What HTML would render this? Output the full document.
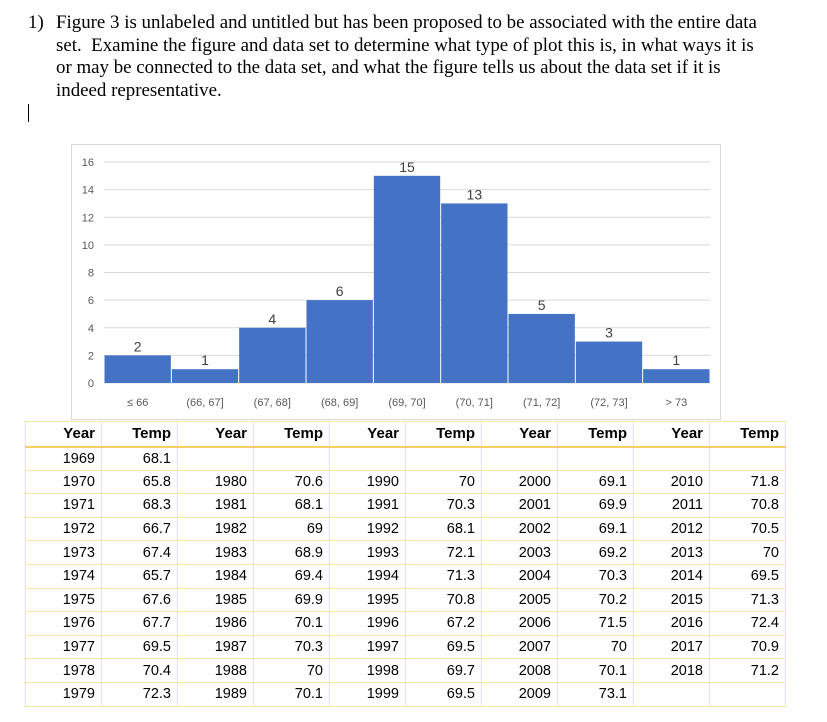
<!DOCTYPE html>
<html><head><meta charset="utf-8"><style>
body{margin:0;width:827px;height:722px;background:#fff;position:relative;overflow:hidden;font-family:"Liberation Serif",serif}
#q{position:absolute;left:28px;top:12px;font-size:18.9px;line-height:22.7px;color:#000}
#q .n{position:absolute;left:0;top:0}
#q .t{position:absolute;left:28px;top:0;white-space:nowrap}
#cursor{position:absolute;left:28px;top:104px;width:1px;height:18px;background:#000}
#chart{position:absolute;left:0;top:0}
table{position:absolute;left:25px;top:421px;border-collapse:collapse;font-family:"Liberation Sans",sans-serif;font-size:14.5px;color:#000}
td,th{width:76px;height:23.6px;padding:0 6px 0 0;text-align:right;border:1px solid #fbe6a6;box-sizing:border-box}
th{font-weight:bold;font-size:15px;border-bottom:2px solid #f5cf62;height:25px}
</style></head><body>
<div id="q"><span class="n">1)</span><div class="t">Figure 3 is unlabeled and untitled but has been proposed to be associated with the entire data<br>set.&nbsp; Examine the figure and data set to determine what type of plot this is, in what ways it is<br>or may be connected to the data set, and what the figure tells us about the data set if it is<br>indeed representative.</div></div>
<div id="cursor"></div>
<svg id="chart" width="827" height="722"></svg>
<table><tbody id="tb"></tbody></table>
<script>
const categories=["≤ 66","(66, 67]","(67, 68]","(68, 69]","(69, 70]","(70, 71]","(71, 72]","(72, 73]","> 73"];
const counts=[2,1,4,6,15,13,5,3,1];
const yTicks=[0,2,4,6,8,10,12,14,16];
const NS="http://www.w3.org/2000/svg";
const svg=document.getElementById('chart');
const x0=104,x1=710,yb=383,yt=162,ymax=16;
const y=v=>yb-(v/ymax)*(yb-yt);
const bw=(x1-x0)/categories.length;
const xb=i=>x0+i*bw;
function mk(t,a,p){const e=document.createElementNS(NS,t);for(const k in a)e.setAttribute(k,a[k]);(p||svg).appendChild(e);return e;}
const frame=mk('rect',{x:71.5,y:144.5,width:649,height:275,fill:'#fff',stroke:'#d9d9d9'});


yTicks.forEach(v=>{
  const g=mk('line',{x1:x0,x2:x1,y1:y(v),y2:y(v),stroke:'#d9d9d9'});
  
  
  const t=mk('text',{x:94,y:y(v)+4,'text-anchor':'end','font-size':'11px',fill:'#595959','font-family':'Liberation Sans,sans-serif'});
  t.textContent=v;
  
  
});
counts.forEach((c,i)=>{
  const r=mk('rect',{x:xb(i)+0.5,y:y(c),width:bw-1,height:yb-y(c),fill:'#4472c4'});
  
  
  const l=mk('text',{x:xb(i)+bw/2,y:y(c)-4,'text-anchor':'middle','font-size':'14px',fill:'#404040','font-family':'Liberation Sans,sans-serif'});
  l.textContent=c;
  
  
  const cl=mk('text',{x:xb(i)+bw/2,y:406,'text-anchor':'middle','font-size':'11px',fill:'#595959','font-family':'Liberation Sans,sans-serif'});
  cl.textContent=categories[i];
  
  
});
const years=[1969,1970,1971,1972,1973,1974,1975,1976,1977,1978,1979,1980,1981,1982,1983,1984,1985,1986,1987,1988,1989,1990,1991,1992,1993,1994,1995,1996,1997,1998,1999,2000,2001,2002,2003,2004,2005,2006,2007,2008,2009,2010,2011,2012,2013,2014,2015,2016,2017,2018];
const temps=[68.1,65.8,68.3,66.7,67.4,65.7,67.6,67.7,69.5,70.4,72.3,70.6,68.1,69,68.9,69.4,69.9,70.1,70.3,70,70.1,70,70.3,68.1,72.1,71.3,70.8,67.2,69.5,69.7,69.5,69.1,69.9,69.1,69.2,70.3,70.2,71.5,70,70.1,73.1,71.8,70.8,70.5,70,69.5,71.3,72.4,70.9,71.2];
const tb=document.getElementById('tb');
let hr=document.createElement('tr');
for(let c=0;c<5;c++){['Year','Temp'].forEach(h=>{const th=document.createElement('th');th.textContent=h;hr.appendChild(th);});}
tb.appendChild(hr);
for(let r=0;r<11;r++){
  const tr=document.createElement('tr');
  for(let c=0;c<5;c++){
    const y2=c===0?1969+r:1969+c*10+r;
    const i2=years.indexOf(y2);
    const show=(c===0||r>=1)&&i2>=0;
    const a=document.createElement('td'),b=document.createElement('td');
    if(show){a.textContent=years[i2];b.textContent=temps[i2];}
    tr.appendChild(a);tr.appendChild(b);
  }
  tb.appendChild(tr);
}
</script>
</body></html>
